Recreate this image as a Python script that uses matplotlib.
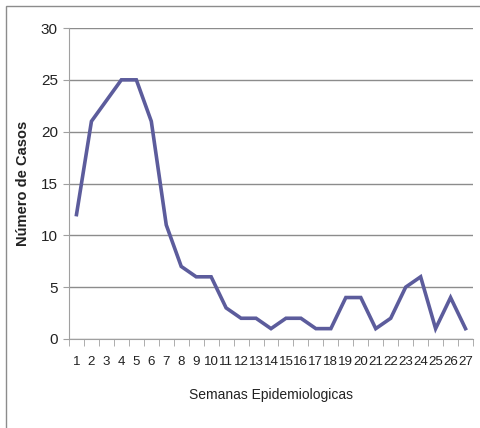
import matplotlib.pyplot as plt
from matplotlib.patches import Rectangle

# weekly case counts
semanas = list(range(1, 28))
casos = [12, 21, 23, 25, 25, 21, 11, 7, 6, 6, 3, 2, 2, 1, 2, 2, 1, 1, 4, 4, 1, 2, 5, 6, 1, 4, 1]

plt.rcParams['font.family'] = ['Liberation Sans', 'DejaVu Sans']

fig = plt.figure(figsize=(4.8, 4.28), dpi=100)
ax = fig.add_axes([69 / 480, 1 - 339 / 428, (473 - 69) / 480, (339 - 28) / 428])

# outer frame
fig.patches.append(Rectangle((6 / 480, -0.01), 1.0, 1 - 6 / 428 + 0.01, transform=fig.transFigure,
                             fill=False, edgecolor='#8c8c8c', linewidth=1.0))

ax.plot(semanas, casos, color='#5c5c9c', linewidth=2.6, solid_joinstyle='miter')

ax.set_xlim(0.5, 27.5)
ax.set_ylim(0, 30)
ax.set_yticks(range(0, 31, 5))
ax.set_xticks(semanas)
ax.set_xticks([s + 0.5 for s in range(0, 28)], minor=True)
ax.tick_params(axis='x', which='major', length=0, pad=12, labelsize=9.6, labelcolor='#222222')
ax.tick_params(axis='x', which='minor', length=5, color='#a0a0a0', direction='out')
ax.tick_params(axis='y', length=4, color='#a0a0a0', labelsize=11, pad=4, labelcolor='#222222')
ax.grid(axis='y', color='#8c8c8c', linewidth=1)
ax.set_axisbelow(True)
for s in ['top', 'right']:
    ax.spines[s].set_visible(False)
ax.spines['left'].set_color('#a0a0a0')
ax.spines['bottom'].set_color('#a0a0a0')

ax.set_xlabel('Semanas Epidemiologicas', fontsize=10, labelpad=15, color='#222222')
ax.set_ylabel('Número de Casos', fontsize=10.5, fontweight='bold', labelpad=8, color='#222222')

fig.savefig('out.png', dpi=100)
